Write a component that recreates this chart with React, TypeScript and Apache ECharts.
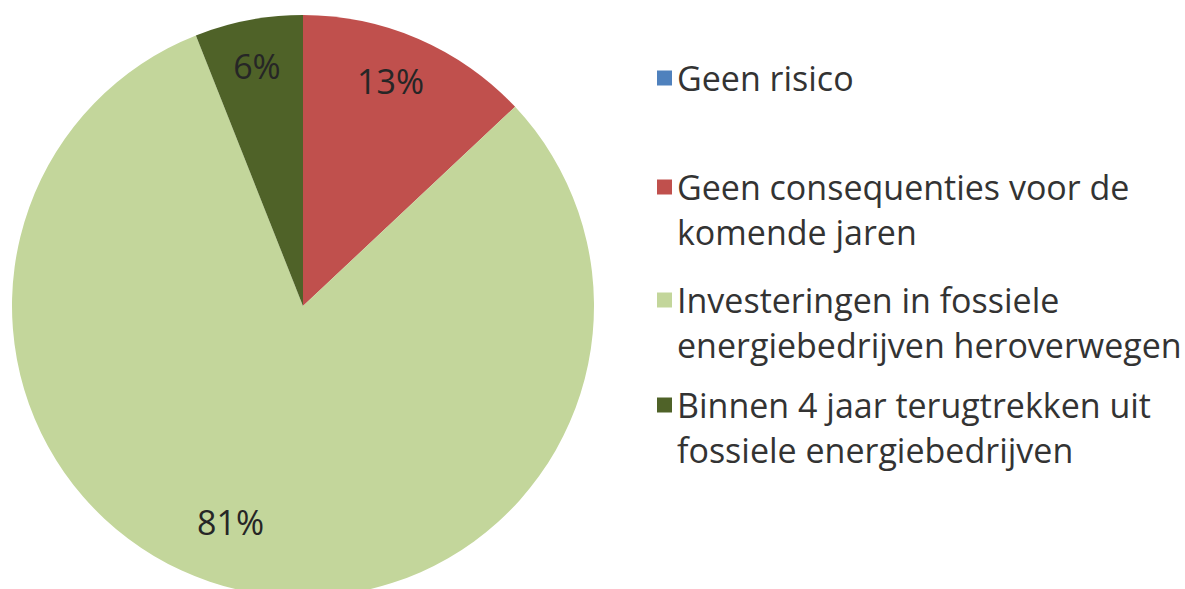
import React, { useEffect, useRef } from "react";
import * as echarts from "echarts";

const categories = [
  "Geen risico",
  "Geen consequenties voor de komende jaren",
  "Investeringen in fossiele energiebedrijven heroverwegen",
  "Binnen 4 jaar terugtrekken uit fossiele energiebedrijven",
];
const legendLines: string[][] = [
  ["Geen risico"],
  ["Geen consequenties voor de", "komende jaren"],
  ["Investeringen in fossiele", "energiebedrijven heroverwegen"],
  ["Binnen 4 jaar terugtrekken uit", "fossiele energiebedrijven"],
];
const values = [0, 13, 81, 6];
const colors = ["#4F81BD", "#C0504D", "#C3D69B", "#4F6228"];

export default function App() {
  const ref = useRef<HTMLDivElement>(null);
  useEffect(() => {
    document.body.style.margin = "0";
    const chart = echarts.init(ref.current!, null, { renderer: "svg" });
    const data = categories.map((name, i) => ({
      name,
      value: values[i],
      itemStyle: { color: colors[i] },
    }));
    const font = "'Open Sans', 'Liberation Sans', sans-serif";
    const lineH = 45;
    const iconCenters = [78, 187, 300, 405];
    const labelOffsets = [[0, 0], [-8, -4], [-20, -19], [-1, -4]];
    const legends = categories.map((name, i) => {
      const lines = legendLines[i].length > 1 ? [" ", ...legendLines[i]] : legendLines[i];
      const boxH = lines.length * lineH;
      return {
        orient: "vertical",
        left: 657,
        top: iconCenters[i] - boxH / 2,
        padding: 0,
        itemWidth: 15,
        itemHeight: 15,
        itemGap: 0,
        icon: "rect",
        selectedMode: false,
        data: [name],
        formatter: () => lines.join("\n"),
        textStyle: {
          fontFamily: font,
          fontSize: 34,
          color: "#333333",
          lineHeight: lineH,
        },
      };
    });
    chart.setOption({
      animation: false,
      backgroundColor: "#ffffff",
      legend: legends,
      series: [
        {
          type: "pie",
          center: [303, 306],
          radius: [0, 291],
          startAngle: 90,
          clockwise: true,
          silent: true,
          label: { show: false },
          labelLine: { show: false },
          data,
        },
        {
          type: "pie",
          center: [303, 306],
          radius: [184, 291],
          startAngle: 90,
          clockwise: true,
          silent: true,
          itemStyle: { color: "transparent", borderWidth: 0 },
          label: {
            show: true,
            position: "inside",
            fontFamily: font,
            fontSize: 34,
            color: "#262626",
            formatter: (p: any) => (p.value > 0 ? `${p.value}%` : ""),
          },
          labelLine: { show: false },
          data: categories.map((name, i) => ({
            name,
            value: values[i],
            itemStyle: { color: "transparent" },
            label: { offset: labelOffsets[i] },
          })),
        },
      ],
    });
    return () => chart.dispose();
  }, []);
  return <div ref={ref} style={{ width: 1185, height: 589 }} />;
}
